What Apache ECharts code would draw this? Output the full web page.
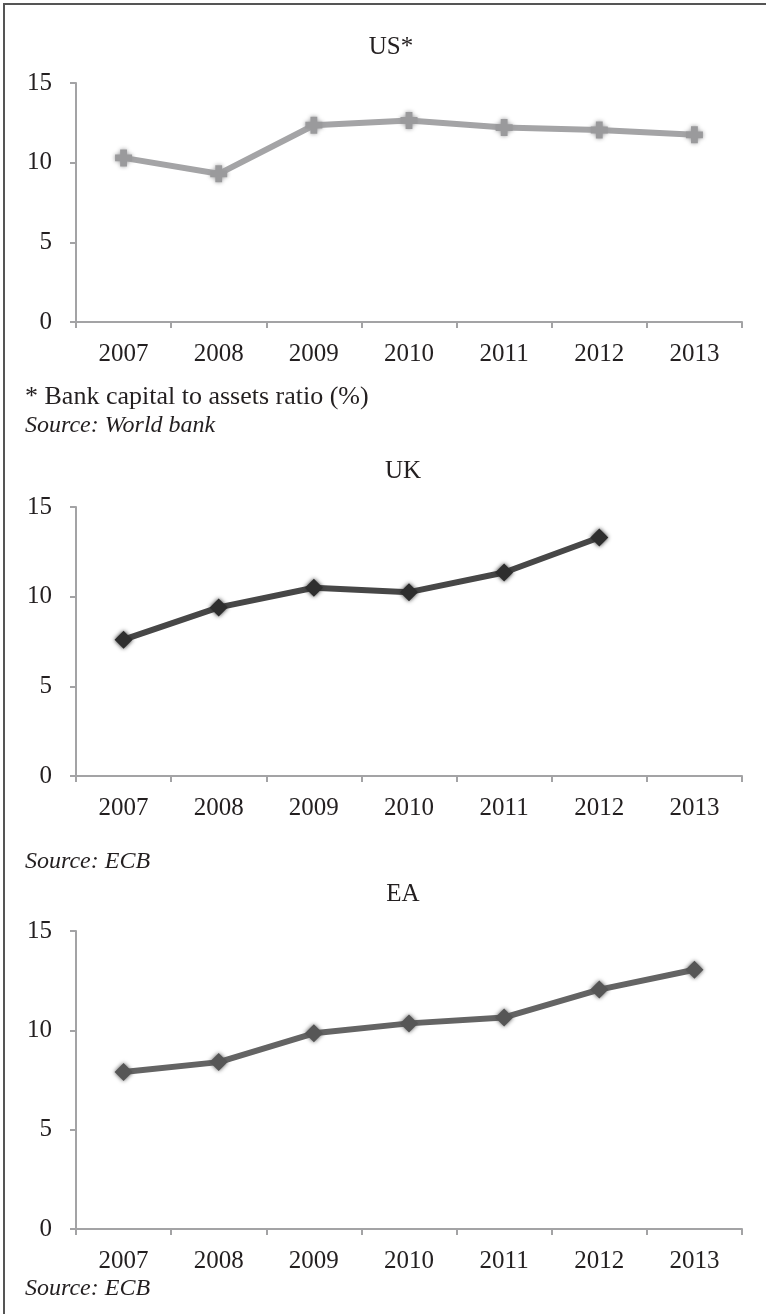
<!DOCTYPE html>
<html>
<head>
<meta charset="utf-8">
<script src="https://cdn.jsdelivr.net/npm/echarts@6/dist/echarts.min.js"></script>
<style>
html,body{margin:0;padding:0;background:#fff;}
#chart{width:766px;height:1314px;}
</style>
</head>
<body>
<div id="chart"></div>
<script>
const years = ['2007', '2008', '2009', '2010', '2011', '2012', '2013'];
const usValues = [10.3, 9.3, 12.35, 12.65, 12.2, 12.05, 11.75];
const ukValues = [7.6, 9.4, 10.5, 10.25, 11.35, 13.3, null];
const eaValues = [7.9, 8.4, 9.85, 10.35, 10.65, 12.05, 13.05];
const panelTitles = ['US*', 'UK', 'EA'];
const yMin = 0, yMax = 15, yStep = 5;

const FONT = '"Liberation Serif", "DejaVu Serif", serif';
const TXT = '#231f20';
const AXIS = '#a3a3a5';

const grids = [
  {left: 76, right: 24, top: 83, height: 239},
  {left: 76, right: 24, top: 507, height: 269},
  {left: 76, right: 24, top: 931, height: 298}
];

const lineColors = ['#a4a4a6', '#474747', '#646464'];
const markColors = ['#9a9a9c', '#2e2e2e', '#565656'];
const symbols = [
  'path://M3,0 L7,0 L7,3 L10,3 L10,7 L7,7 L7,10 L3,10 L3,7 L0,7 L0,3 L3,3 Z',
  'diamond',
  'diamond'
];
const seriesData = [usValues, ukValues, eaValues];

const chart = echarts.init(document.getElementById('chart'), null, {renderer: 'canvas'});

const xAxes = grids.map((g, i) => ({
  type: 'category',
  gridIndex: i,
  data: years,
  boundaryGap: true,
  axisLine: {show: true, lineStyle: {color: AXIS, width: 2}},
  axisTick: {show: true, length: 6, interval: 0, lineStyle: {color: AXIS, width: 2}},
  axisLabel: {fontFamily: FONT, fontSize: 25, color: TXT, margin: 20, interval: 0},
  splitLine: {show: false}
}));

const yAxes = grids.map((g, i) => ({
  type: 'value',
  gridIndex: i,
  min: yMin, max: yMax, interval: yStep,
  axisLine: {show: true, lineStyle: {color: AXIS, width: 2}},
  axisTick: {show: true, length: 6, lineStyle: {color: AXIS, width: 2}},
  axisLabel: {fontFamily: FONT, fontSize: 25, color: TXT, margin: 24},
  splitLine: {show: false}
}));

const series = seriesData.map((d, i) => ({
  type: 'line',
  xAxisIndex: i,
  yAxisIndex: i,
  data: d,
  symbol: symbols[i],
  symbolSize: i === 0 ? 17 : 18,
  showAllSymbol: true,
  lineStyle: {color: lineColors[i], width: 6},
  itemStyle: {color: markColors[i], shadowBlur: 4, shadowColor: markColors[i]},
  connectNulls: false,
  silent: true,
  animation: false
}));

const titleY = [42, 466, 889];
const titleX = [386, 398, 398];
const titles = panelTitles.map((t, i) => ({
  text: t,
  left: titleX[i],
  top: titleY[i],
  textAlign: 'center',
  textVerticalAlign: 'middle',
  textStyle: {fontFamily: FONT, fontSize: 25, fontWeight: 'normal', color: TXT}
}));

function note(text, y, italic, size) {
  return {
    type: 'text',
    left: 25,
    top: y - size / 2,
    style: {
      text: text,
      font: (italic ? 'italic ' : '') + size + 'px ' + FONT,
      fill: TXT
    }
  };
}

chart.setOption({
  animation: false,
  backgroundColor: '#fff',
  title: titles,
  grid: grids,
  xAxis: xAxes,
  yAxis: yAxes,
  series: series,
  graphic: [
    {type: 'line', shape: {x1: 3, y1: 4, x2: 766, y2: 4}, style: {stroke: '#555', lineWidth: 2}},
    {type: 'line', shape: {x1: 4, y1: 3, x2: 4, y2: 1314}, style: {stroke: '#555', lineWidth: 2}},
    note('* Bank capital to assets ratio (%)', 397, false, 26),
    note('Source: World bank', 426, true, 24),
    note('Source: ECB', 862, true, 24),
    note('Source: ECB', 1289, true, 24)
  ]
});
</script>
</body>
</html>
